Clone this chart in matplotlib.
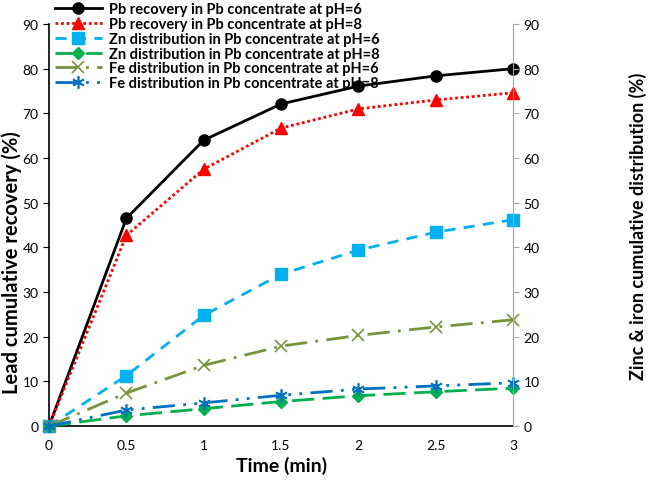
import matplotlib
matplotlib.use('Agg')
import matplotlib.pyplot as plt
import numpy as np

plt.rcParams['font.family'] = ['Lato', 'DejaVu Sans']

# Dados
tempo = [0, 0.5, 1, 1.5, 2, 2.5, 3]
pb_ph6 = [0, 46.5, 64.0, 72.1, 76.1, 78.4, 80.0]
pb_ph8 = [0, 42.7, 57.5, 66.7, 71.0, 73.0, 74.6]
zn_ph6 = [0, 11.3, 24.8, 34.0, 39.4, 43.4, 46.2]
zn_ph8 = [0, 2.3, 3.9, 5.5, 6.8, 7.7, 8.5]
fe_ph6 = [0, 7.4, 13.6, 17.9, 20.3, 22.2, 23.8]
fe_ph8 = [0, 3.6, 5.2, 6.9, 8.3, 9.0, 9.7]

labels = ['Pb recovery in Pb concentrate at pH=6',
          'Pb recovery in Pb concentrate at pH=8',
          'Zn distribution in Pb concentrate at pH=6',
          'Zn distribution in Pb concentrate at pH=8',
          'Fe distribution in Pb concentrate at pH=6',
          'Fe distribution in Pb concentrate at pH=8']

fig = plt.figure(figsize=(6.57, 4.81), dpi=100)
ax = fig.add_axes([0.0746, 0.112, 0.7064, 0.836])
ax2 = ax.twinx()

kw = dict(clip_on=False, lw=2)
l1, = ax.plot(tempo, pb_ph6, color='black', marker='o', ms=8, label=labels[0], **kw)
l2, = ax.plot(tempo, pb_ph8, color='#FF0000', ls=(0, (1, 1)), marker='^', ms=8, label=labels[1], **kw)
l3, = ax2.plot(tempo, zn_ph6, color='#00B0F0', ls=(0, (4, 3)), marker='s', ms=8, label=labels[2], **kw)
l4, = ax2.plot(tempo, zn_ph8, color='#00B050', ls=(0, (8, 3)), marker='D', ms=6, label=labels[3], **kw)
l5, = ax2.plot(tempo, fe_ph6, color='#77933C', ls=(0, (8, 3, 1, 3)), marker='x', ms=8,
               mew=1.2, label=labels[4], **kw)
l6, = ax2.plot(tempo, fe_ph8, color='#0070C0', ls=(0, (8, 3, 1, 3, 1, 3)), marker=(6, 2, 0), ms=9,
               mew=1.2, label=labels[5], **kw)

for a in (ax, ax2):
    a.set_xlim(0, 3)
    a.set_ylim(0, 90)
    a.set_yticks(np.arange(0, 91, 10))

ax.set_xticks([0, 0.5, 1, 1.5, 2, 2.5, 3])
ax.set_xticklabels(['0', '0.5', '1', '1.5', '2', '2.5', '3'])
ax.tick_params(axis='x', length=0, labelsize=10, pad=9)
ax.tick_params(axis='y', length=4, labelsize=10, direction='out', color='black')
ax2.tick_params(axis='y', length=4, labelsize=10, direction='out', color='#A6A6A6')

ax.spines['top'].set_visible(False)
ax2.spines['top'].set_visible(False)
ax.spines['right'].set_visible(False)
ax2.spines['left'].set_visible(False)
ax2.spines['bottom'].set_visible(False)
ax2.spines['right'].set_color('#A6A6A6')
ax.spines['left'].set_linewidth(1.2)
ax.spines['bottom'].set_linewidth(1.2)

ax.set_xlabel('Time (min)', fontsize=14, fontweight='bold', labelpad=4)
ax.set_ylabel('Lead cumulative recovery (%)', fontsize=14.5, fontweight='bold')
ax.yaxis.set_label_coords(-0.058, 0.41)
ax2.set_ylabel('Zinc & iron cumulative distribution (%)', fontsize=13, fontweight='bold')
ax2.yaxis.set_label_coords(1.25, 0.5)

leg = fig.legend(handles=[l1, l2, l3, l4, l5, l6], loc='upper left', bbox_to_anchor=(0.075, 1.005),
                 frameon=False, prop={'weight': 'bold', 'size': 10.5}, handlelength=3.2,
                 handletextpad=0.5, labelspacing=0.05, borderaxespad=0)

fig.savefig('out.png', dpi=100)
